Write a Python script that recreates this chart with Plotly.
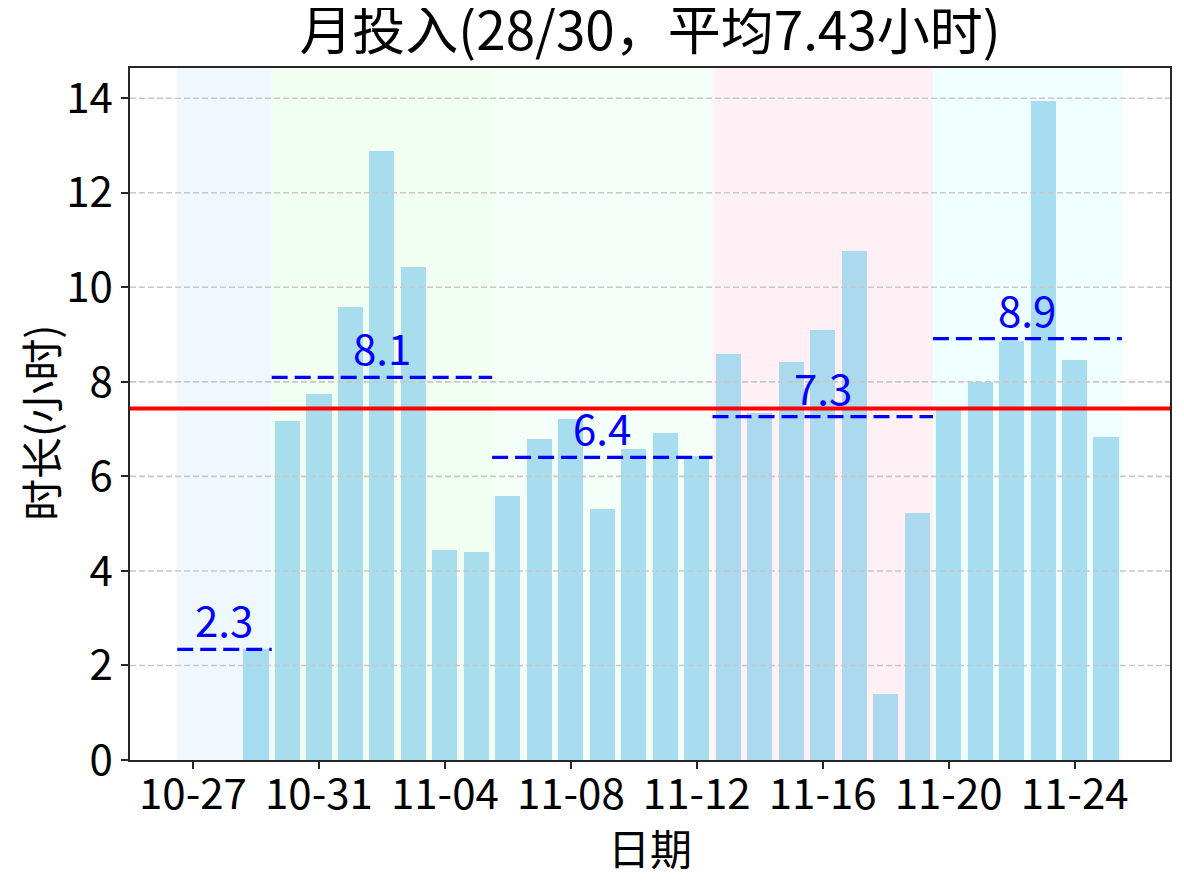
import pandas as pd
import plotly.graph_objects as go

# daily hours, 10-27 .. 11-25 (0 = no record)
dates = [d.strftime("%m-%d") for d in pd.date_range("2025-10-27", "2025-11-25")]
hours = [0, 0, 2.34, 7.18, 7.75, 9.58, 12.88, 10.42, 4.45, 4.41,
         5.59, 6.80, 7.22, 5.30, 6.57, 6.91, 6.44,
         8.58, 7.35, 8.43, 9.09, 10.76, 1.40, 5.23,
         7.40, 7.99, 8.86, 13.94, 8.46, 6.84]

# week groups (first day, last day)
week_start = ["10-27", "10-30", "11-06", "11-13", "11-20"]
week_end = ["10-29", "11-05", "11-12", "11-19", "11-25"]
week_colors = ["#F0F8FF", "#F0FFF0", "#F5FFFA", "#FFF0F5", "#F0FFFF"]

y_ticks = [0, 2, 4, 6, 8, 10, 12, 14]
tick_every = 4

FONT = "Noto Sans CJK SC"

x = list(range(len(dates)))
worked = [h for h in hours if h > 0]
avg = sum(worked) / len(worked)

fig = go.Figure()

fig.add_trace(go.Bar(x=x, y=hours, width=0.8,
                     marker=dict(color="rgba(135,206,235,0.7)", line=dict(width=0)),
                     showlegend=False))

shapes = []
annotations = []
for s, e, c in zip(week_start, week_end, week_colors):
    i0 = dates.index(s)
    i1 = dates.index(e)
    shapes.append(dict(type="rect", xref="x", yref="paper", x0=i0 - 0.5, x1=i1 + 0.5,
                       y0=0, y1=1, fillcolor=c, line=dict(width=0), layer="below"))
    vals = [h for h in hours[i0:i1 + 1] if h > 0]
    m = sum(vals) / len(vals)
    fig.add_trace(go.Scatter(x=[i0 - 0.5, i1 + 0.5], y=[m, m], mode="lines",
                             line=dict(color="blue", width=3.3, dash="16px,7px"),
                             showlegend=False, hoverinfo="skip"))
    annotations.append(dict(x=(i0 + i1) / 2, y=m, text=f"{m:.1f}", showarrow=False,
                            yanchor="bottom", yshift=-2,
                            font=dict(family=FONT, size=42, color="blue")))

# grid lines on top of bars (like matplotlib)
for t in y_ticks[1:]:
    shapes.append(dict(type="line", xref="paper", yref="y", x0=0, x1=1, y0=t, y1=t,
                       line=dict(color="#C8C8C8", width=1.6, dash="6px,3px"), layer="above"))

shapes.append(dict(type="line", xref="paper", yref="y", x0=0, x1=1, y0=avg, y1=avg,
                   line=dict(color="red", width=4), layer="above"))

# axis titles
annotations.append(dict(text="日期", xref="paper", yref="paper", x=0.5, y=0,
                        xanchor="center", yanchor="middle", yshift=-86, showarrow=False,
                        font=dict(family=FONT, size=42, color="black")))
annotations.append(dict(text="时长(小时)", xref="paper", yref="paper", x=0, y=0.5,
                        xanchor="center", yanchor="middle", xshift=-91, yshift=-9,
                        textangle=-90, showarrow=False,
                        font=dict(family=FONT, size=42, color="black")))

tickvals = x[::tick_every]
fig.update_layout(
    width=1176, height=876,
    margin=dict(l=122, r=14, t=60, b=124),
    plot_bgcolor="white", paper_bgcolor="white",
    font=dict(family=FONT, size=42, color="black"),
    title=dict(text=f"月投入({len(worked)}/{len(dates)}，平均{avg:.2f}小时)",
               x=0.5, xref="paper", xanchor="center",
               y=1, yref="container", yanchor="top", pad=dict(t=5),
               font=dict(family=FONT, size=53, color="black")),
    shapes=shapes,
    annotations=annotations,
    bargap=0,
)
fig.update_xaxes(range=[-2, 31.03], tickvals=tickvals, ticktext=[dates[i] for i in tickvals],
                 showgrid=False, zeroline=False, showline=True, mirror=True,
                 linecolor="#262626", linewidth=1.6, ticks="outside", ticklen=7,
                 tickwidth=1.6, tickcolor="#262626", ticklabelstandoff=-10,
                 tickfont=dict(family=FONT, size=42))
fig.update_yaxes(range=[0, 14.64], tickvals=y_ticks,
                 showgrid=False, zeroline=False, showline=True, mirror=True,
                 linecolor="#262626", linewidth=1.6, ticks="outside", ticklen=7,
                 tickwidth=1.6, tickcolor="#262626",
                 tickfont=dict(family=FONT, size=42))

fig.write_html("out.html")
